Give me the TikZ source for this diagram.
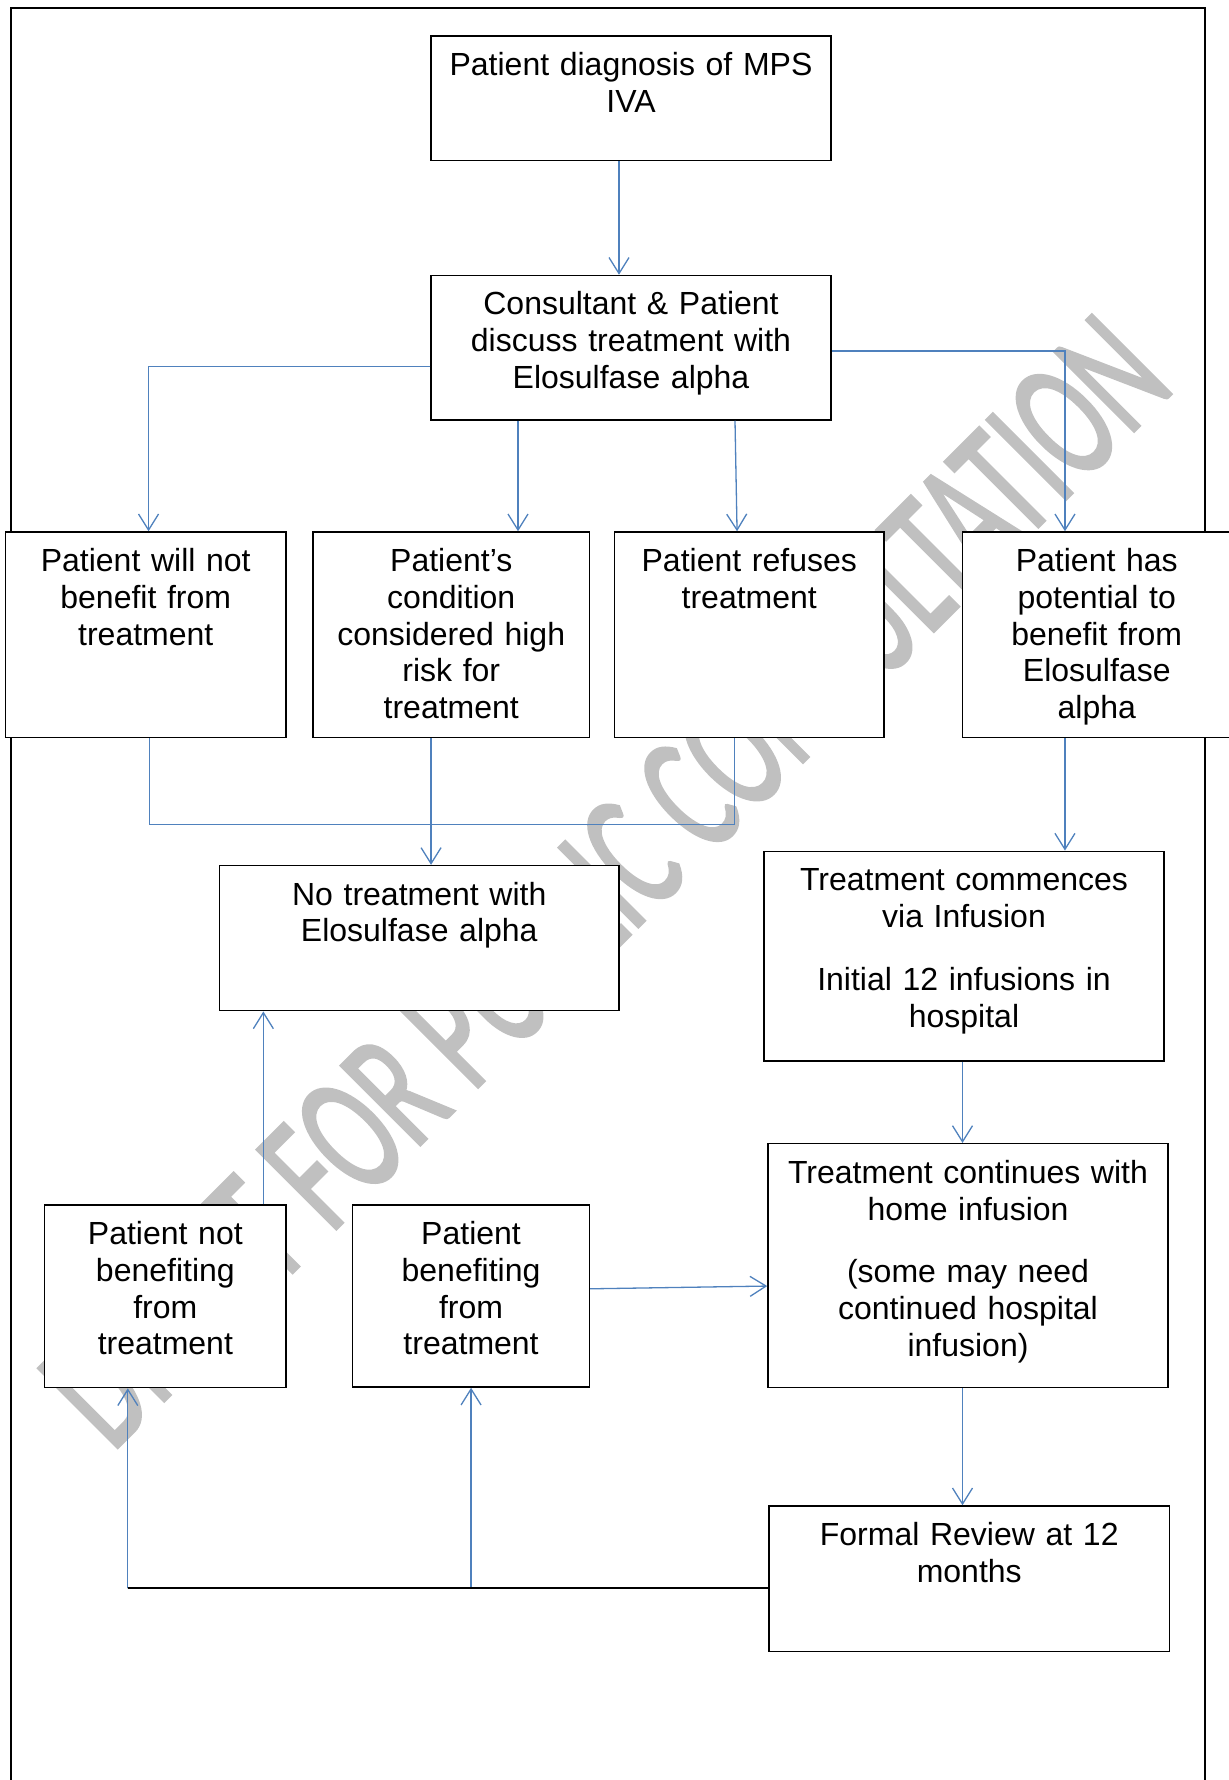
\documentclass[tikz,border=0pt]{standalone}
\usepackage{fontspec}
\setmainfont{Liberation Sans}
\newfontfamily\markfont{Carlito}[FakeBold=2]
\usetikzlibrary{arrows.meta}
\definecolor{linkblue}{RGB}{79,129,189}
\definecolor{markgray}{RGB}{192,192,192}
\tikzset{flowbox/.style={draw, line width=0.75pt, fill=white, inner sep=0pt,
  align=center, text height=19.75pt, font=\fontsize{16pt}{18.4pt}\selectfont}}
\tikzset{link/.style={linkblue, line width=0.65pt,
  -{Straight Barb[length=8pt, width=10pt]}}}
\tikzset{wire/.style={linkblue, line width=0.65pt}}

\begin{document}
\begin{tikzpicture}[x=0.5pt, y=-0.5pt]
\useasboundingbox (0,0) rectangle (1229,1780);

\node[markgray, rotate=45, xscale=0.611, inner sep=0pt,
  font=\markfont\fontsize{87pt}{90pt}\selectfont] (watermark) at (605,881)
  {DRAFT FOR PUBLIC CONSULTATION};

\draw[line width=1pt] (11,1790) -- (11,8.5) -- (1205,8.5) -- (1205,1790);

\node[flowbox, text width=200pt, text depth=42.5pt] (diag) at (631,98.25)
  {Patient diagnosis of MPS\\IVA};
\node[flowbox, text width=200pt, text depth=52.5pt] (disc) at (631,347.75)
  {Consultant \& Patient\\discuss treatment with\\Elosulfase alpha};

\node[flowbox, text width=140.25pt, text depth=83pt] (nobenefit) at (145.75,634.75)
  {Patient will not\\benefit from\\treatment};
\node[flowbox, text width=138.25pt, text depth=83pt] (highrisk) at (451.25,634.75)
  {Patient's\\condition\\considered high\\risk for\\treatment};
\node[flowbox, text width=134.75pt, text depth=83pt] (refuse) at (749.25,634.75)
  {Patient refuses\\treatment};
\node[flowbox, text width=134.25pt, text depth=83pt] (potential) at (1096.75,634.75)
  {Patient has\\potential to\\benefit from\\Elosulfase\\alpha};

\node[flowbox, text width=199.75pt, text depth=52.8pt] (notreat) at (419.25,938.15)
  {No treatment with\\Elosulfase alpha};
\node[flowbox, text width=200pt, text depth=85.1pt] (commence) at (964,956.15)
  {Treatment commences\\via Infusion\\[13pt]Initial 12 infusions in\\hospital};
\node[flowbox, text width=200pt, text depth=102.2pt] (continues) at (968,1265.65)
  {Treatment continues with\\home infusion\\[13pt](some may need\\continued hospital\\infusion)};

\node[flowbox, text width=120.65pt, text depth=71.55pt] (notbenefiting) at (165.35,1296.3)
  {Patient not\\benefiting\\from\\treatment};
\node[flowbox, text width=118.35pt, text depth=71.25pt] (benefiting) at (471.05,1296)
  {Patient\\benefiting\\from\\treatment};
\node[flowbox, text width=200.25pt, text depth=53pt] (review) at (969.25,1578.75)
  {Formal Review at 12\\months};

\draw[link] ([xshift=-6pt]diag.south) -- ([xshift=-6pt]disc.north);
\draw[link] ([yshift=-9.4pt]disc.west) -| ([xshift=1.4pt]nobenefit.north);
\draw[link] ([xshift=-56.5pt]disc.south) -- ([xshift=-56.5pt]disc.south |- highrisk.north);
\draw[link] ([xshift=52pt]disc.south) -- ([xshift=-6.1pt]refuse.north);
\draw[link] ([yshift=-1.6pt]disc.east) -| ([xshift=-15.9pt]potential.north);

\draw[wire] ([xshift=2pt]nobenefit.south) -- ++(0,-43.25pt) -| ([xshift=-7.4pt]refuse.south);
\draw[link] ([xshift=-10.1pt]highrisk.south) -- ([xshift=-10.1pt]highrisk.south |- notreat.north);
\draw[link] ([xshift=-15.9pt]potential.south) -- ([xshift=-15.9pt]potential.south |- commence.north);
\draw[link] ([xshift=-0.75pt]commence.south) -- ([xshift=-0.75pt]commence.south |- continues.north);
\draw[link] ([yshift=3.6pt]benefiting.east) -- ([yshift=-10.2pt]continues.west);
\draw[link] ([xshift=49pt]notbenefiting.north) -- ([xshift=49pt]notbenefiting.north |- notreat.south);
\draw[link] ([xshift=-2.75pt]continues.south) -- ([xshift=-2.75pt]continues.south |- review.north);

\coordinate (loopleft) at (127.8,1588);
\draw[link] (loopleft) -- (loopleft |- notbenefiting.south);
\draw[link] (loopleft -| benefiting.south) -- (benefiting.south);
\draw[line width=0.8pt] ([yshift=-4.6pt]review.west) -- (loopleft);

\end{tikzpicture}
\end{document}
